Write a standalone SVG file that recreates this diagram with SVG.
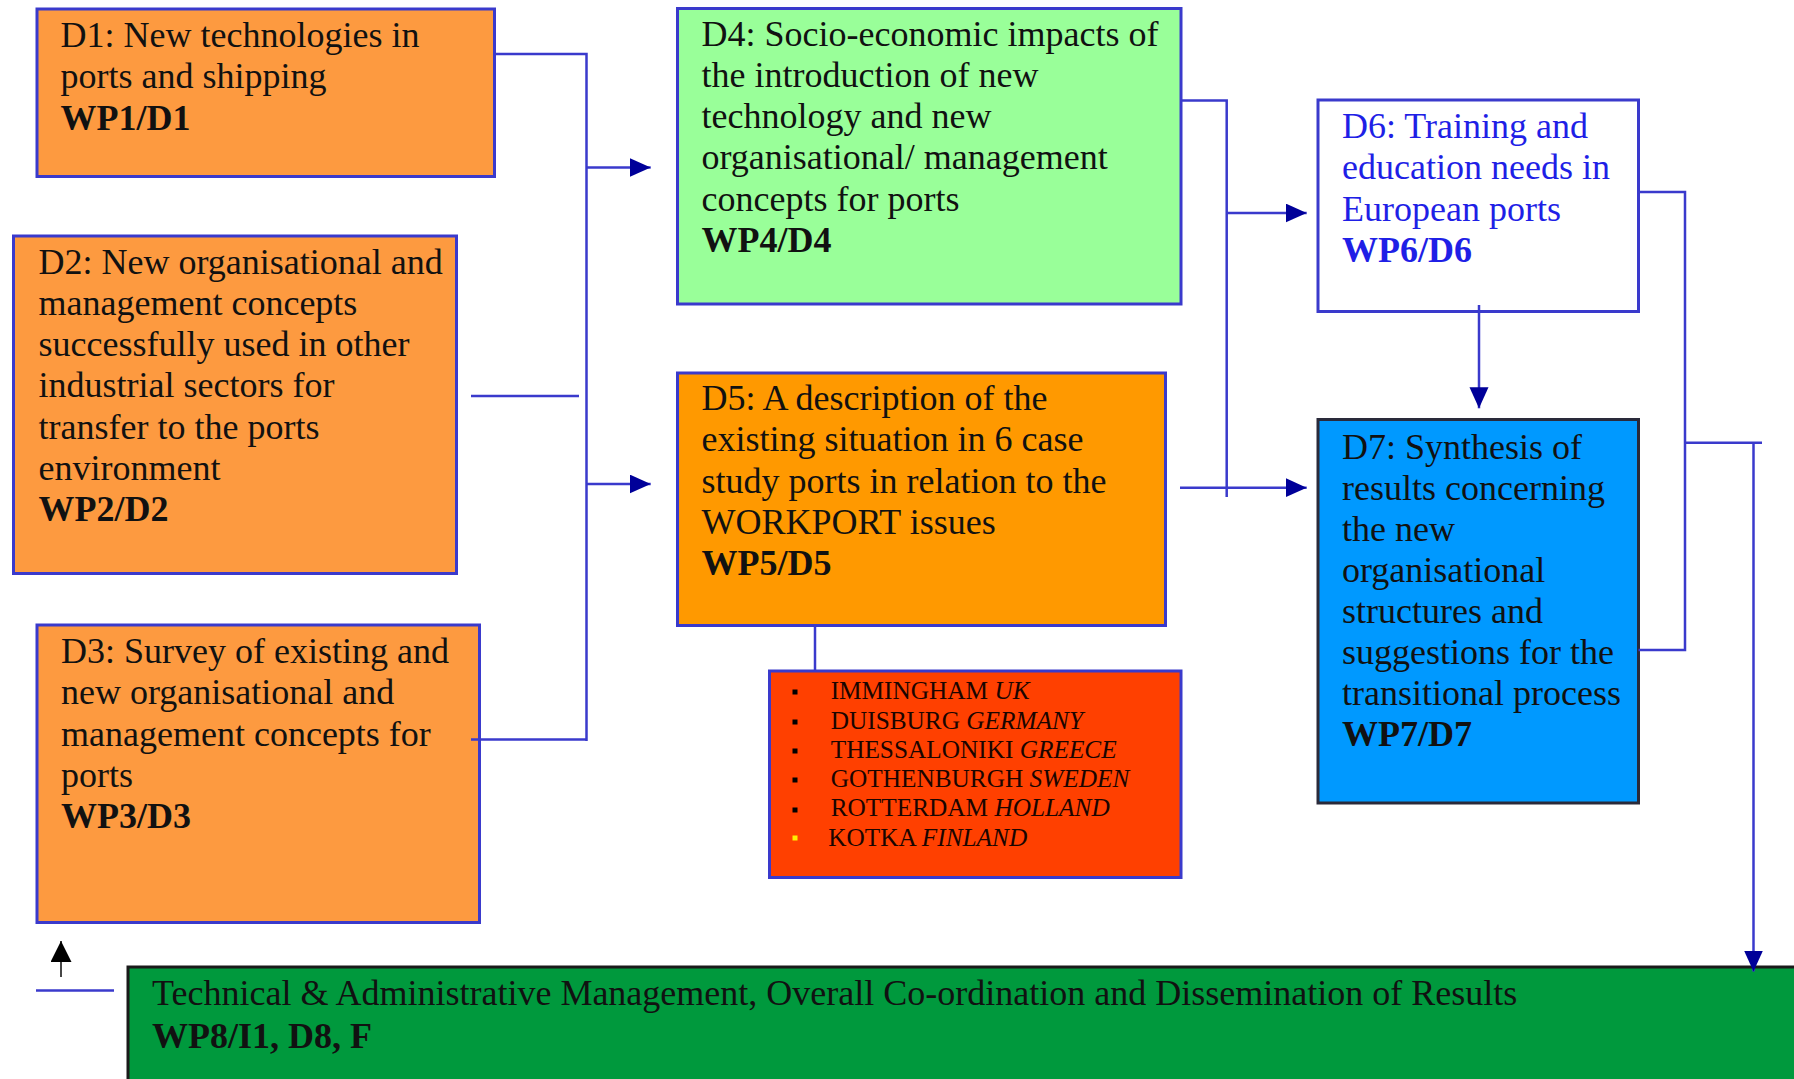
<svg xmlns="http://www.w3.org/2000/svg" width="1794" height="1079" viewBox="0 0 1794 1079">
  <defs>
    <style>
      .box { stroke: #3a3acc; stroke-width: 3; }
      .lbl { font-family: "Liberation Serif", "Times New Roman", serif; font-size: 36px; fill: #111; }
      .wp { font-weight: bold; }
      .conn { fill: none; stroke: #3a3acc; stroke-width: 2.5; }
      .ports { font-family: "Liberation Serif", "Times New Roman", serif; font-size: 25.3px; fill: #1a0500; }
      .ports .cty { font-style: italic; }
    </style>
    <marker id="head" markerUnits="userSpaceOnUse" markerWidth="22" markerHeight="20" refX="21" refY="9.5" orient="auto">
      <path d="M0,0 L21,9.5 L0,19 z" fill="#000099"/>
    </marker>
    <marker id="headBlack" markerUnits="userSpaceOnUse" markerWidth="22" markerHeight="22" refX="21" refY="10.5" orient="auto">
      <path d="M0,0 L21,10.5 L0,21 z" fill="#000"/>
    </marker>
  </defs>
  <rect width="1794" height="1079" fill="#fff"/>

  <!-- D1 -->
  <g id="d1">
    <rect class="box" x="37" y="9" width="457.5" height="167.5" fill="#fd9a40"/>
    <text class="lbl">
      <tspan x="60.5" y="46.5">D1: New technologies in</tspan>
      <tspan x="60.5" y="88">ports and shipping</tspan>
      <tspan x="60.5" y="129.5" class="wp">WP1/D1</tspan>
    </text>
  </g>

  <!-- D2 -->
  <g id="d2">
    <rect class="box" x="13.5" y="236" width="443" height="337.5" fill="#fd9a40"/>
    <text class="lbl">
      <tspan x="38.5" y="273.5">D2: New organisational and</tspan>
      <tspan x="38.5" y="314.8">management concepts</tspan>
      <tspan x="38.5" y="356.1">successfully used in other</tspan>
      <tspan x="38.5" y="397.4">industrial sectors for</tspan>
      <tspan x="38.5" y="438.7">transfer to the ports</tspan>
      <tspan x="38.5" y="480">environment</tspan>
      <tspan x="38.5" y="521.3" class="wp">WP2/D2</tspan>
    </text>
  </g>

  <!-- D3 -->
  <g id="d3">
    <rect class="box" x="37" y="625" width="442.5" height="297.5" fill="#fd9a40"/>
    <text class="lbl">
      <tspan x="61" y="663">D3: Survey of existing and</tspan>
      <tspan x="61" y="704.3">new organisational and</tspan>
      <tspan x="61" y="745.6">management concepts for</tspan>
      <tspan x="61" y="786.9">ports</tspan>
      <tspan x="61" y="828.2" class="wp">WP3/D3</tspan>
    </text>
  </g>

  <!-- D4 -->
  <g id="d4">
    <rect class="box" x="677.5" y="8.5" width="503.5" height="295.5" fill="#99ff99"/>
    <text class="lbl">
      <tspan x="701.5" y="45.5">D4: Socio-economic impacts of</tspan>
      <tspan x="701.5" y="86.8">the introduction of new</tspan>
      <tspan x="701.5" y="128.1">technology and new</tspan>
      <tspan x="701.5" y="169.4">organisational/ management</tspan>
      <tspan x="701.5" y="210.7">concepts for ports</tspan>
      <tspan x="701.5" y="252" class="wp">WP4/D4</tspan>
    </text>
  </g>

  <!-- D5 -->
  <g id="d5">
    <rect class="box" x="677.5" y="373" width="488" height="252.5" fill="#ff9900"/>
    <text class="lbl">
      <tspan x="701.5" y="410">D5: A description of the</tspan>
      <tspan x="701.5" y="451.3">existing situation in 6 case</tspan>
      <tspan x="701.5" y="492.6">study ports in relation to the</tspan>
      <tspan x="701.5" y="533.9">WORKPORT issues</tspan>
      <tspan x="701.5" y="575.2" class="wp">WP5/D5</tspan>
    </text>
  </g>

  <!-- case study ports -->
  <g id="ports">
    <rect class="box" x="769.5" y="671" width="411.5" height="206.5" fill="#ff4000"/>
    <g fill="#000">
      <rect x="792.5" y="689.5" width="5" height="5"/>
      <rect x="792.5" y="719.5" width="5" height="5"/>
      <rect x="792.5" y="748.5" width="5" height="5"/>
      <rect x="792.5" y="777.5" width="5" height="5"/>
      <rect x="792.5" y="807.5" width="5" height="5"/>
      <rect x="792.5" y="835.5" width="5" height="5" fill="#ffee00"/>
    </g>
    <text class="ports">
      <tspan x="830.7" y="699.3">IMMINGHAM <tspan class="cty">UK</tspan></tspan>
      <tspan x="830.7" y="728.8">DUISBURG <tspan class="cty">GERMANY</tspan></tspan>
      <tspan x="830.7" y="758">THESSALONIKI <tspan class="cty">GREECE</tspan></tspan>
      <tspan x="830.7" y="787.2">GOTHENBURGH <tspan class="cty">SWEDEN</tspan></tspan>
      <tspan x="830.7" y="816.4">ROTTERDAM <tspan class="cty">HOLLAND</tspan></tspan>
      <tspan x="828.3" y="845.5">KOTKA <tspan class="cty">FINLAND</tspan></tspan>
    </text>
  </g>

  <!-- D6 -->
  <g id="d6">
    <rect class="box" x="1318" y="100" width="320.5" height="211.5" fill="#fff"/>
    <text class="lbl" style="fill:#1f1fe6">
      <tspan x="1342" y="138">D6: Training and</tspan>
      <tspan x="1342" y="179.3">education needs in</tspan>
      <tspan x="1342" y="220.6">European ports</tspan>
      <tspan x="1342" y="261.9" class="wp">WP6/D6</tspan>
    </text>
  </g>

  <!-- D7 -->
  <g id="d7">
    <rect x="1318" y="419.5" width="320.5" height="383.5" fill="#0099ff" stroke="#2a2a3a" stroke-width="3"/>
    <text class="lbl">
      <tspan x="1342" y="458.5">D7: Synthesis of</tspan>
      <tspan x="1342" y="499.6">results concerning</tspan>
      <tspan x="1342" y="540.7">the new</tspan>
      <tspan x="1342" y="581.8">organisational</tspan>
      <tspan x="1342" y="622.9">structures and</tspan>
      <tspan x="1342" y="664">suggestions for the</tspan>
      <tspan x="1342" y="705.1">transitional process</tspan>
      <tspan x="1342" y="746.2" class="wp">WP7/D7</tspan>
    </text>
  </g>

  <!-- WP8 management bar -->
  <g id="wp8">
    <rect x="128" y="967" width="1680" height="130" fill="#00993d" stroke="#1a1a1a" stroke-width="3"/>
    <text class="lbl">
      <tspan x="152" y="1005">Technical &amp; Administrative Management, Overall Co-ordination and Dissemination of Results</tspan>
      <tspan x="152" y="1048" class="wp">WP8/I1, D8, F</tspan>
    </text>
  </g>

  <!-- connectors, drawn over the box edges -->
  <g id="connectors">
    <polyline class="conn" points="494.5,54 586.5,54 586.5,741"/>
    <line class="conn" x1="586.5" y1="167.5" x2="650.7" y2="167.5" marker-end="url(#head)"/>
    <line class="conn" x1="586.5" y1="484" x2="650.7" y2="484" marker-end="url(#head)"/>
    <line class="conn" x1="471" y1="396" x2="579" y2="396"/>
    <line class="conn" x1="471" y1="739.5" x2="586.5" y2="739.5"/>
    <polyline class="conn" points="1181,100.5 1226.7,100.5 1226.7,497"/>
    <line class="conn" x1="1226.7" y1="213" x2="1306.7" y2="213" marker-end="url(#head)"/>
    <line class="conn" x1="1180" y1="487.7" x2="1306.7" y2="487.7" marker-end="url(#head)"/>
    <line class="conn" x1="1479" y1="305" x2="1479" y2="408.3" marker-end="url(#head)"/>
    <polyline class="conn" points="1638.5,192 1685,192 1685,650 1638.5,650"/>
    <line class="conn" x1="1685" y1="442.7" x2="1762" y2="442.7"/>
    <line class="conn" x1="1753.5" y1="442.7" x2="1753.5" y2="971.5" marker-end="url(#head)"/>
    <line class="conn" x1="815" y1="625.5" x2="815" y2="671"/>
    <line x1="61" y1="977" x2="61" y2="941" stroke="#333" stroke-width="1.8" marker-end="url(#headBlack)"/>
    <line class="conn" stroke-width="3" x1="36" y1="990.5" x2="114" y2="990.5"/>
  </g>
</svg>
